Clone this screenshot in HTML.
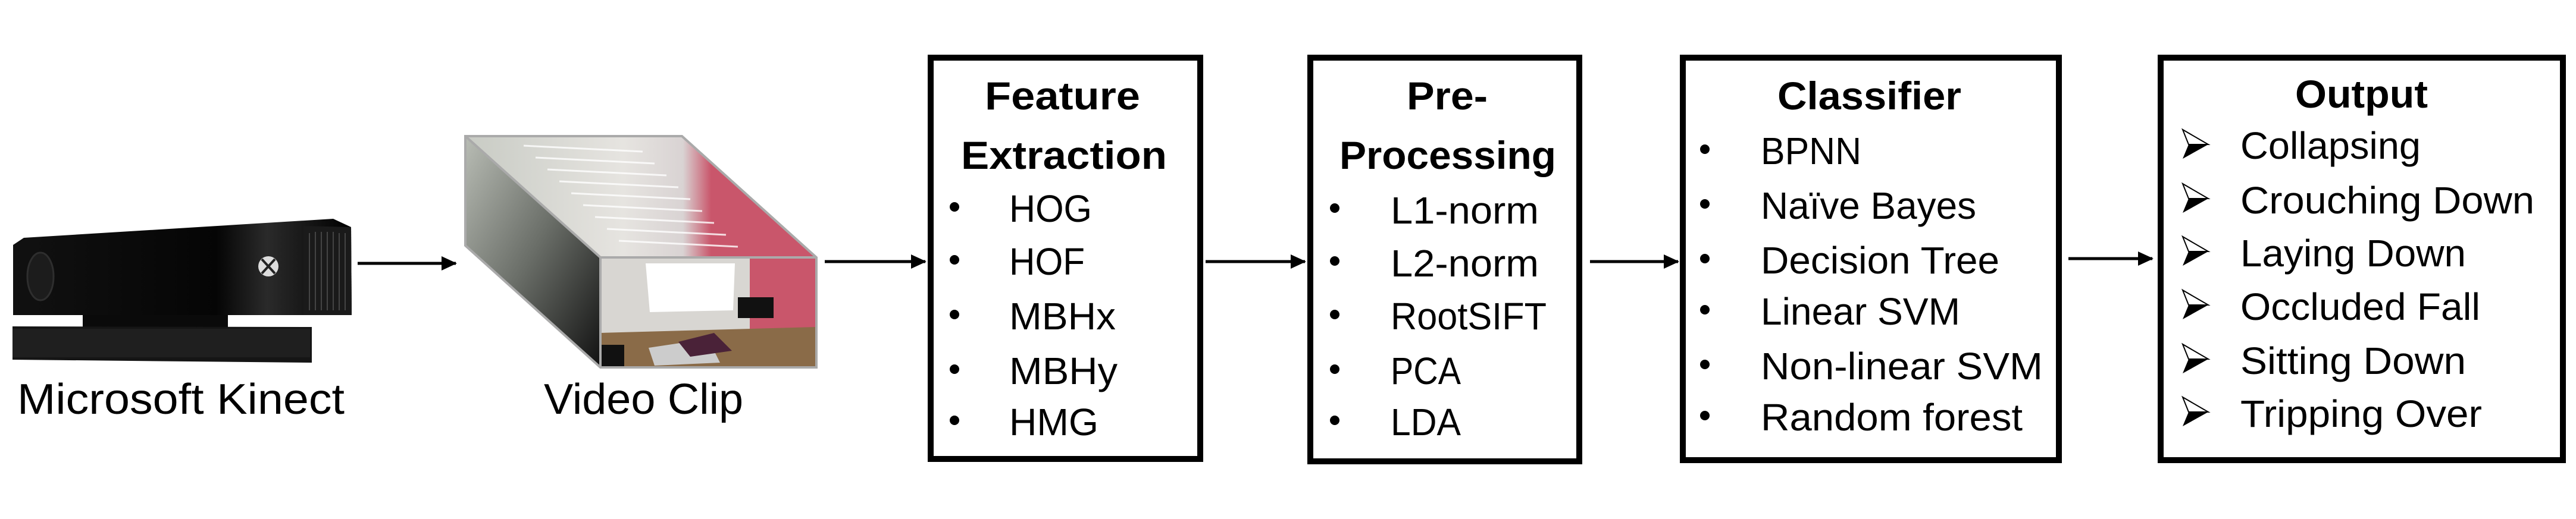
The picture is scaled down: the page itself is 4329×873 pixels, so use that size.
<!DOCTYPE html>
<html><head><meta charset="utf-8"><style>
html,body{margin:0;padding:0;background:#fff;}
svg{display:block;}
text{font-family:"Liberation Sans",sans-serif;fill:#000;}
.h{font-weight:bold;font-size:66px;}
.t{font-size:64px;}
</style></head><body>
<svg width="4329" height="873" viewBox="0 0 4329 873" xmlns="http://www.w3.org/2000/svg">
<defs>
<marker id="ah" markerWidth="26" markerHeight="24" refX="24" refY="12" orient="auto" markerUnits="userSpaceOnUse" viewBox="0 0 26 24"><path d="M0,0 L26,12 L0,24 z" fill="#000"/></marker>
<linearGradient id="kb" x1="0" y1="0" x2="1" y2="0"><stop offset="0" stop-color="#111"/><stop offset="0.6" stop-color="#050505"/><stop offset="0.75" stop-color="#2a2a2a"/><stop offset="1" stop-color="#000"/></linearGradient>
<linearGradient id="top" x1="0" y1="0" x2="1" y2="0"><stop offset="0" stop-color="#c8cbc4"/><stop offset="0.45" stop-color="#e6e4e0"/><stop offset="0.62" stop-color="#d9d3d3"/><stop offset="0.7" stop-color="#c9566b"/><stop offset="1" stop-color="#c9566b"/></linearGradient>
<linearGradient id="side" x1="0" y1="0" x2="1" y2="1"><stop offset="0" stop-color="#b9bdb5"/><stop offset="0.5" stop-color="#6a6e68"/><stop offset="1" stop-color="#111"/></linearGradient>
</defs>

<path d="M22,412 L40,400 L560,368 L590,382 L591,530 L22,530 Z" fill="url(#kb)"/>
<path d="M510,380 L590,382 L591,530 L510,530 Z" fill="#1a1a1a"/>
<g stroke="#444" stroke-width="2">
<line x1="520" y1="392" x2="520" y2="522"/><line x1="530" y1="390" x2="530" y2="522"/><line x1="540" y1="390" x2="540" y2="522"/><line x1="550" y1="390" x2="550" y2="522"/><line x1="560" y1="390" x2="560" y2="522"/><line x1="570" y1="392" x2="570" y2="522"/><line x1="580" y1="392" x2="580" y2="522"/>
</g>
<ellipse cx="68" cy="465" rx="22" ry="40" fill="#1c1c1c" stroke="#2e2e2e" stroke-width="3"/>
<circle cx="451" cy="448" r="17" fill="#ddd"/>
<path d="M440,436 L462,460 M462,436 L440,460" stroke="#222" stroke-width="4"/>
<rect x="139" y="530" width="244" height="22" fill="#0a0a0a"/>
<path d="M21,549 L524,550 L524,610 L21,605 Z" fill="#151515"/>
<rect x="21" y="553" width="500" height="48" fill="#1f1f1f"/>
<text x="29" y="696" font-size="72" textLength="550" lengthAdjust="spacingAndGlyphs">Microsoft Kinect</text>

<polygon points="782,229 1146,229 1372,433 1009,433" fill="url(#top)"/>
<polygon points="782,229 1009,433 1009,618 782,413" fill="url(#side)"/>
<g stroke="#fff" stroke-width="3" opacity="0.8">
<line x1="880" y1="245" x2="1080" y2="255"/><line x1="900" y1="265" x2="1100" y2="275"/><line x1="920" y1="285" x2="1120" y2="295"/><line x1="940" y1="305" x2="1140" y2="315"/><line x1="960" y1="325" x2="1160" y2="335"/><line x1="980" y1="345" x2="1180" y2="355"/><line x1="1000" y1="365" x2="1200" y2="375"/><line x1="1020" y1="385" x2="1220" y2="395"/><line x1="1040" y1="405" x2="1240" y2="415"/>
</g>
<rect x="1009" y="433" width="363" height="185" fill="#d8d6d2"/>
<rect x="1260" y="433" width="112" height="185" fill="#c9566b"/>
<polygon points="1085,443 1235,443 1232,522 1092,525" fill="#fff"/>
<rect x="1240" y="500" width="60" height="35" fill="#111"/>
<polygon points="1009,560 1372,550 1372,618 1009,618" fill="#8a6b48"/>
<polygon points="1090,585 1190,570 1210,610 1100,615" fill="#ccc"/>
<polygon points="1140,575 1200,560 1230,590 1160,600" fill="#4a2238"/>
<rect x="1009" y="580" width="40" height="38" fill="#111"/>
<polygon points="782,229 1146,229 1372,433 1372,618 1009,618 782,413" fill="none" stroke="#aaa" stroke-width="4"/>
<polyline points="782,229 1009,433 1372,433" fill="none" stroke="#aaa" stroke-width="4"/>
<line x1="1009" y1="433" x2="1009" y2="618" stroke="#aaa" stroke-width="4"/>
<text x="914" y="696" font-size="72" textLength="335" lengthAdjust="spacingAndGlyphs">Video Clip</text>

<g stroke="#000" stroke-width="5" marker-end="url(#ah)" fill="none">
<line x1="601" y1="443" x2="766" y2="443"/>
<line x1="1386" y1="440" x2="1555" y2="440"/>
<line x1="2026" y1="440" x2="2193" y2="440"/>
<line x1="2672" y1="440" x2="2820" y2="440"/>
<line x1="3476" y1="435" x2="3617" y2="435"/>
</g>

<g fill="none" stroke="#000" stroke-width="10">
<rect x="1564" y="97" width="453" height="675"/>
<rect x="2202" y="97" width="452" height="679"/>
<rect x="2828" y="97" width="632" height="677"/>
<rect x="3631" y="97" width="676" height="677"/>
</g>

<text class="h" x="1655" y="184" textLength="261" lengthAdjust="spacingAndGlyphs">Feature</text>
<text class="h" x="1615" y="284" textLength="346" lengthAdjust="spacingAndGlyphs">Extraction</text>
<g fill="#000"><circle cx="1604" cy="348" r="8"/><circle cx="1604" cy="437" r="8"/><circle cx="1604" cy="529" r="8"/><circle cx="1604" cy="621" r="8"/><circle cx="1604" cy="707" r="8"/></g>
<text class="t" x="1696" y="373" textLength="139" lengthAdjust="spacingAndGlyphs">HOG</text>
<text class="t" x="1696" y="462" textLength="127" lengthAdjust="spacingAndGlyphs">HOF</text>
<text class="t" x="1696" y="554" textLength="179" lengthAdjust="spacingAndGlyphs">MBHx</text>
<text class="t" x="1696" y="646" textLength="182" lengthAdjust="spacingAndGlyphs">MBHy</text>
<text class="t" x="1696" y="732" textLength="150" lengthAdjust="spacingAndGlyphs">HMG</text>

<text class="h" x="2364" y="184" textLength="136" lengthAdjust="spacingAndGlyphs">Pre-</text>
<text class="h" x="2251" y="284" textLength="364" lengthAdjust="spacingAndGlyphs">Processing</text>
<g fill="#000"><circle cx="2243" cy="350" r="8"/><circle cx="2243" cy="439" r="8"/><circle cx="2243" cy="529" r="8"/><circle cx="2243" cy="621" r="8"/><circle cx="2243" cy="707" r="8"/></g>
<text class="t" x="2337" y="376" textLength="249" lengthAdjust="spacingAndGlyphs">L1-norm</text>
<text class="t" x="2337" y="465" textLength="249" lengthAdjust="spacingAndGlyphs">L2-norm</text>
<text class="t" x="2337" y="554" textLength="262" lengthAdjust="spacingAndGlyphs">RootSIFT</text>
<text class="t" x="2337" y="646" textLength="118" lengthAdjust="spacingAndGlyphs">PCA</text>
<text class="t" x="2337" y="732" textLength="118" lengthAdjust="spacingAndGlyphs">LDA</text>

<text class="h" x="2987" y="184" textLength="309" lengthAdjust="spacingAndGlyphs">Classifier</text>
<g fill="#000"><circle cx="2865" cy="251" r="8"/><circle cx="2865" cy="343" r="8"/><circle cx="2865" cy="435" r="8"/><circle cx="2865" cy="521" r="8"/><circle cx="2865" cy="613" r="8"/><circle cx="2865" cy="699" r="8"/></g>
<text class="t" x="2959" y="276" textLength="169" lengthAdjust="spacingAndGlyphs">BPNN</text>
<text class="t" x="2959" y="368" textLength="362" lengthAdjust="spacingAndGlyphs">Naïve Bayes</text>
<text class="t" x="2959" y="460" textLength="401" lengthAdjust="spacingAndGlyphs">Decision Tree</text>
<text class="t" x="2959" y="546" textLength="335" lengthAdjust="spacingAndGlyphs">Linear SVM</text>
<text class="t" x="2959" y="638" textLength="474" lengthAdjust="spacingAndGlyphs">Non-linear SVM</text>
<text class="t" x="2959" y="724" textLength="440" lengthAdjust="spacingAndGlyphs">Random forest</text>

<text class="h" x="3857" y="181" textLength="223" lengthAdjust="spacingAndGlyphs">Output</text>
<g>
<g transform="translate(0,0)"><path d="M3668,218 L3711,243 L3678,243 Z" fill="#fff" stroke="#000" stroke-width="2"/><path d="M3668,267 L3711,243 L3678,243 Z" fill="#000"/></g>
<g transform="translate(0,91)"><path d="M3668,218 L3711,243 L3678,243 Z" fill="#fff" stroke="#000" stroke-width="2"/><path d="M3668,267 L3711,243 L3678,243 Z" fill="#000"/></g>
<g transform="translate(0,180)"><path d="M3668,218 L3711,243 L3678,243 Z" fill="#fff" stroke="#000" stroke-width="2"/><path d="M3668,267 L3711,243 L3678,243 Z" fill="#000"/></g>
<g transform="translate(0,270)"><path d="M3668,218 L3711,243 L3678,243 Z" fill="#fff" stroke="#000" stroke-width="2"/><path d="M3668,267 L3711,243 L3678,243 Z" fill="#000"/></g>
<g transform="translate(0,361)"><path d="M3668,218 L3711,243 L3678,243 Z" fill="#fff" stroke="#000" stroke-width="2"/><path d="M3668,267 L3711,243 L3678,243 Z" fill="#000"/></g>
<g transform="translate(0,450)"><path d="M3668,218 L3711,243 L3678,243 Z" fill="#fff" stroke="#000" stroke-width="2"/><path d="M3668,267 L3711,243 L3678,243 Z" fill="#000"/></g>
</g>
<text class="t" x="3765" y="267" textLength="303" lengthAdjust="spacingAndGlyphs">Collapsing</text>
<text class="t" x="3765" y="359" textLength="494" lengthAdjust="spacingAndGlyphs">Crouching Down</text>
<text class="t" x="3765" y="448" textLength="379" lengthAdjust="spacingAndGlyphs">Laying Down</text>
<text class="t" x="3765" y="538" textLength="403" lengthAdjust="spacingAndGlyphs">Occluded Fall</text>
<text class="t" x="3765" y="629" textLength="379" lengthAdjust="spacingAndGlyphs">Sitting Down</text>
<text class="t" x="3765" y="718" textLength="406" lengthAdjust="spacingAndGlyphs">Tripping Over</text>
</svg>
</body></html>
